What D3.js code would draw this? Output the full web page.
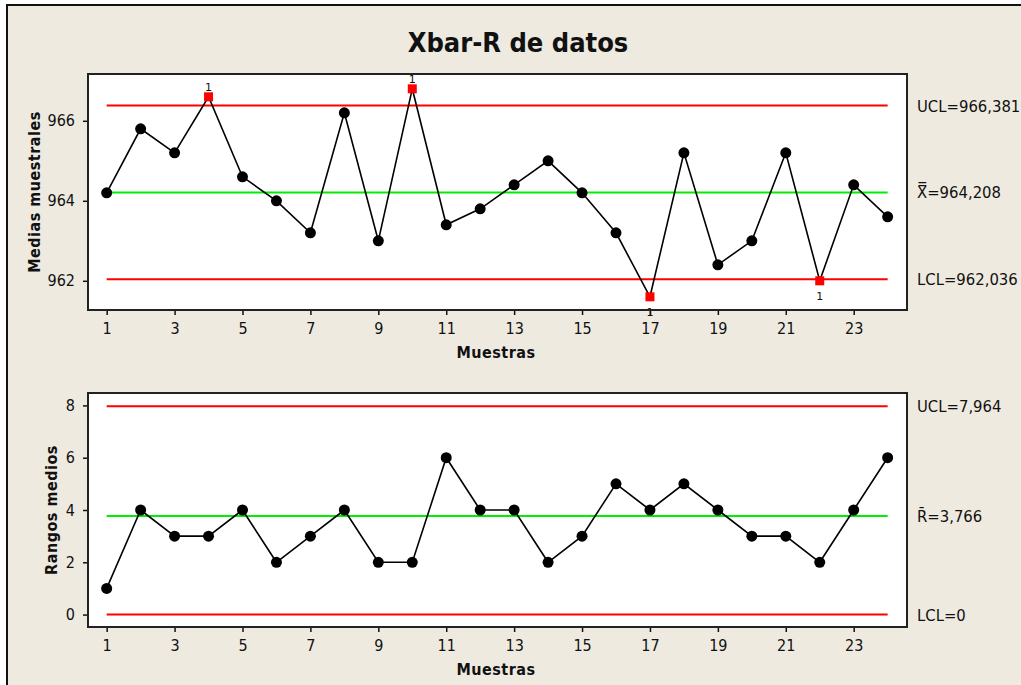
<!DOCTYPE html>
<html>
<head>
<meta charset="utf-8">
<script src="https://cdn.jsdelivr.net/npm/d3@7"></script>
<style>
  html, body { margin: 0; padding: 0; background: #ffffff; }
  svg { display: block; }
  .tick text { font-family: "DejaVu Sans Condensed", "DejaVu Sans", sans-serif; font-stretch: condensed; font-size: 16px; fill: #111; }
  .lbl { font-family: "DejaVu Sans Condensed", "DejaVu Sans", sans-serif; font-stretch: condensed; fill: #111; }
</style>
</head>
<body>
<svg id="chart" width="1021" height="685"></svg>
<script>
// Sample numbers and subgroup statistics
const samples = d3.range(1, 25);
const means = [964.2, 965.8, 965.2, 966.6, 964.6, 964.0, 963.2, 966.2, 963.0, 966.8, 963.4, 963.8,
               964.4, 965.0, 964.2, 963.2, 961.6, 965.2, 962.4, 963.0, 965.2, 962.0, 964.4, 963.6];
const ranges = [1, 4, 3, 3, 4, 2, 3, 4, 2, 2, 6, 4, 4, 2, 3, 5, 4, 5, 4, 3, 3, 2, 4, 6];

// Control limits
const meanLimits = { ucl: 966.381, center: 964.208, lcl: 962.036 };
const rangeLimits = { ucl: 7.964, center: 3.766, lcl: 0 };
const meanLimitLabels = ["UCL=966,381", "X\u033F=964,208", "LCL=962,036"];
const rangeLimitLabels = ["UCL=7,964", "R\u0304=3,766", "LCL=0"];

// Tick values
const xTicks = [1, 3, 5, 7, 9, 11, 13, 15, 17, 19, 21, 23];
const meanTicks = [962, 964, 966];
const rangeTicks = [0, 2, 4, 6, 8];

const svg = d3.select("#chart");

// Panel background and frame
svg.append("rect")
  .attr("x", 7).attr("y", 5).attr("width", 1100).attr("height", 800)
  .attr("fill", "#EEEAE0").attr("stroke", "#111").attr("stroke-width", 2);

svg.append("text").attr("class", "lbl")
  .attr("x", 518).attr("y", 52)
  .attr("text-anchor", "middle")
  .attr("font-size", 27).attr("font-weight", "bold")
  .text("Xbar-R de datos");

const plotLeft = 88, plotRight = 907;
const x = d3.scaleLinear().domain([0.45, 24.57]).range([plotLeft, plotRight]);

function drawChart(opts) {
  const { top, bottom, yDomain, values, limits, labels, ticks, yTitle, yTitleX } = opts;
  const y = d3.scaleLinear().domain(yDomain).range([bottom, top]);
  const g = svg.append("g");

  g.append("rect")
    .attr("x", plotLeft).attr("y", top)
    .attr("width", plotRight - plotLeft).attr("height", bottom - top)
    .attr("fill", "#ffffff");

  // Axes
  const xAxis = g.append("g")
    .attr("transform", `translate(0,${bottom})`)
    .call(d3.axisBottom(x).tickValues(xTicks).tickSize(5).tickPadding(8).tickFormat(d3.format("d")));
  xAxis.select(".domain").remove();
  xAxis.selectAll(".tick line").attr("stroke", "#111").attr("stroke-width", 1.5);

  const yAxis = g.append("g")
    .attr("transform", `translate(${plotLeft},0)`)
    .call(d3.axisLeft(y).tickValues(ticks).tickSize(5).tickPadding(8).tickFormat(d3.format("d")));
  yAxis.select(".domain").remove();
  yAxis.selectAll(".tick line").attr("stroke", "#111").attr("stroke-width", 1.5);

  // Control lines
  const limitRows = [
    { v: limits.ucl, color: "#FF0000", label: labels[0] },
    { v: limits.center, color: "#00EE00", label: labels[1] },
    { v: limits.lcl, color: "#FF0000", label: labels[2] }
  ];
  g.selectAll("line.limit").data(limitRows).join("line")
    .attr("class", "limit")
    .attr("x1", x(1)).attr("x2", x(24))
    .attr("y1", d => y(d.v)).attr("y2", d => y(d.v))
    .attr("stroke", d => d.color).attr("stroke-width", 2);

  g.selectAll("text.limitLabel").data(limitRows).join("text")
    .attr("class", "lbl limitLabel")
    .attr("x", 917).attr("y", d => y(d.v) + 6)
    .attr("font-size", 16.5)
    .text(d => d.label);

  // Series line and markers
  const pts = samples.map((s, i) => ({ s, v: values[i], out: values[i] > limits.ucl || values[i] < limits.lcl }));
  g.append("path")
    .datum(pts)
    .attr("fill", "none").attr("stroke", "#000").attr("stroke-width", 1.6)
    .attr("d", d3.line().x(d => x(d.s)).y(d => y(d.v)));

  g.selectAll("circle.pt").data(pts.filter(d => !d.out)).join("circle")
    .attr("class", "pt")
    .attr("cx", d => x(d.s)).attr("cy", d => y(d.v)).attr("r", 5.5)
    .attr("fill", "#000");

  const sq = 9;
  g.selectAll("rect.flag").data(pts.filter(d => d.out)).join("rect")
    .attr("class", "flag")
    .attr("x", d => x(d.s) - sq / 2).attr("y", d => y(d.v) - sq / 2)
    .attr("width", sq).attr("height", sq)
    .attr("fill", "#FF0000");

  // Test 1 markers
  g.selectAll("text.flagLabel").data(pts.filter(d => d.out)).join("text")
    .attr("class", "flagLabel")
    .attr("x", d => x(d.s)).attr("y", d => d.v > limits.ucl ? y(d.v) - 6 : y(d.v) + 19)
    .attr("text-anchor", "middle")
    .attr("font-family", "'DejaVu Sans', sans-serif").attr("font-size", 11).attr("fill", "#111")
    .text("1");

  // Frame
  g.append("rect")
    .attr("x", plotLeft).attr("y", top)
    .attr("width", plotRight - plotLeft).attr("height", bottom - top)
    .attr("fill", "none").attr("stroke", "#222").attr("stroke-width", 2);

  // Axis titles
  g.append("text").attr("class", "lbl")
    .attr("x", 496).attr("y", bottom + 48)
    .attr("text-anchor", "middle").attr("font-size", 16).attr("font-weight", "bold")
    .attr("letter-spacing", 0.5)
    .text("Muestras");

  g.append("text").attr("class", "lbl")
    .attr("transform", `translate(${yTitleX},${(top + bottom) / 2}) rotate(-90)`)
    .attr("text-anchor", "middle").attr("font-size", 16).attr("font-weight", "bold")
    .attr("letter-spacing", 0.5)
    .text(yTitle);
}

drawChart({
  top: 74, bottom: 310, yDomain: [961.27, 967.17],
  values: means, limits: meanLimits, labels: meanLimitLabels,
  ticks: meanTicks, yTitle: "Medias muestrales", yTitleX: 40
});

drawChart({
  top: 393, bottom: 627, yDomain: [-0.475, 8.475],
  values: ranges, limits: rangeLimits, labels: rangeLimitLabels,
  ticks: rangeTicks, yTitle: "Rangos medios", yTitleX: 57
});
</script>
</body>
</html>
